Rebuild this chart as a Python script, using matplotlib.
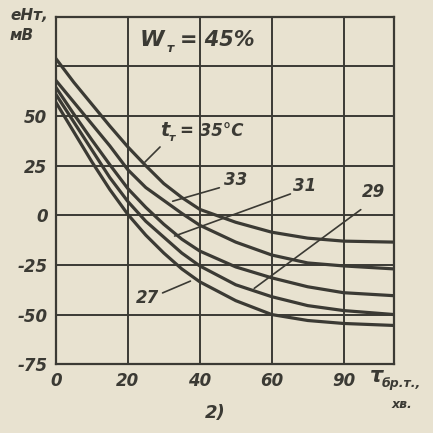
import matplotlib
matplotlib.use("Agg")
import matplotlib.pyplot as plt

# brewing time, min
tau = [0, 5, 10, 15, 20, 25, 30, 35, 40, 50, 60, 70, 80, 94]
# eH of the mash, mV, for each temperature t_T
e35 = [79, 67, 56, 45, 34.5, 25, 16, 9, 3, -3.5, -8.5, -11.5, -13, -13.5]
e33 = [68, 57, 46, 35, 23, 14, 7.5, 1, -5, -13.5, -20, -24, -25.5, -27]
e31 = [64.5, 51, 38, 25.5, 13.5, 4, -4.5, -12, -18, -26, -31.5, -36, -39, -40.5]
e29 = [61, 47, 33, 19, 7, -3, -11, -19, -25.5, -35, -41, -45.5, -48, -50]
e27 = [57, 42, 27, 13, 0.5, -10, -19, -27, -33.5, -43, -50, -53, -54.5, -55.5]

xticks = [0, 20, 40, 60, 80]
xtick_labels = ["0", "20", "40", "60", "90"]
yticks = [-75, -50, -25, 0, 25, 50, 75]
ytick_labels = ["-75", "-50", "-25", "0", "25", "50", ""]

paper = "#e8e2d0"
ink = "#3b3a34"

fig = plt.figure(figsize=(4.33, 4.33), dpi=100, facecolor=paper)
ax = fig.add_axes([0.129, 0.159, 0.781, 0.802], facecolor=paper)

for y in [e35, e33, e31, e29, e27]:
    ax.plot(tau, y, color=ink, lw=2.3, solid_capstyle="round", solid_joinstyle="round")

ax.set_xlim(0, 94)
ax.set_ylim(-75, 100)
ax.set_xticks(xticks)
ax.set_xticklabels(xtick_labels)
ax.set_yticks(yticks)
ax.set_yticklabels(ytick_labels)
ax.grid(True, color=ink, lw=1.4)
ax.tick_params(length=0, pad=6, colors=ink, labelsize=12)
for lab in ax.get_xticklabels() + ax.get_yticklabels():
    lab.set_fontstyle("italic")
    lab.set_fontweight("bold")
for s in ax.spines.values():
    s.set_color(ink)
    s.set_linewidth(1.6)

tf = dict(color=ink, fontstyle="italic", fontweight="bold")
# pointer lines to the curves
pointers = [((162, 145), (143, 164)), ((222, 187), (170, 202)),
            ((293, 193), (172, 237)), ((363, 208), (252, 290)),
            ((160, 294), (193, 280))]
for (x0, y0), (x1, y1) in pointers:
    ax.annotate("", xy=(x1, 433 - y1), xycoords="figure pixels",
                xytext=(x0, 433 - y0), textcoords="figure pixels",
                arrowprops=dict(arrowstyle="-", color=ink, lw=1.2))


def put(x, y, s, size, **kw):
    fig.text(x / 433, 1 - y / 433, s, fontsize=size, va="center", **tf, **kw)


put(160, 131, "t", 14)
put(169, 138, "т", 8)
put(180, 131, "= 35°C", 12)
put(224, 180, "33", 12)
put(293, 186, "31", 12)
put(362, 192, "29", 12)
put(136, 298, "27", 12)
put(140, 40, "W", 16)
put(167, 48, "т", 9)
put(180, 40, "= 45%", 15)
put(10, 16, "еНт,", 11)
put(10, 36, "мВ", 11)
put(370, 376, "τ", 15)
put(382, 383, "бр.т.,", 9)
put(392, 404, "хв.", 9)
put(205, 413, "2)", 13)

fig.savefig("out.png", dpi=100, facecolor=paper)
